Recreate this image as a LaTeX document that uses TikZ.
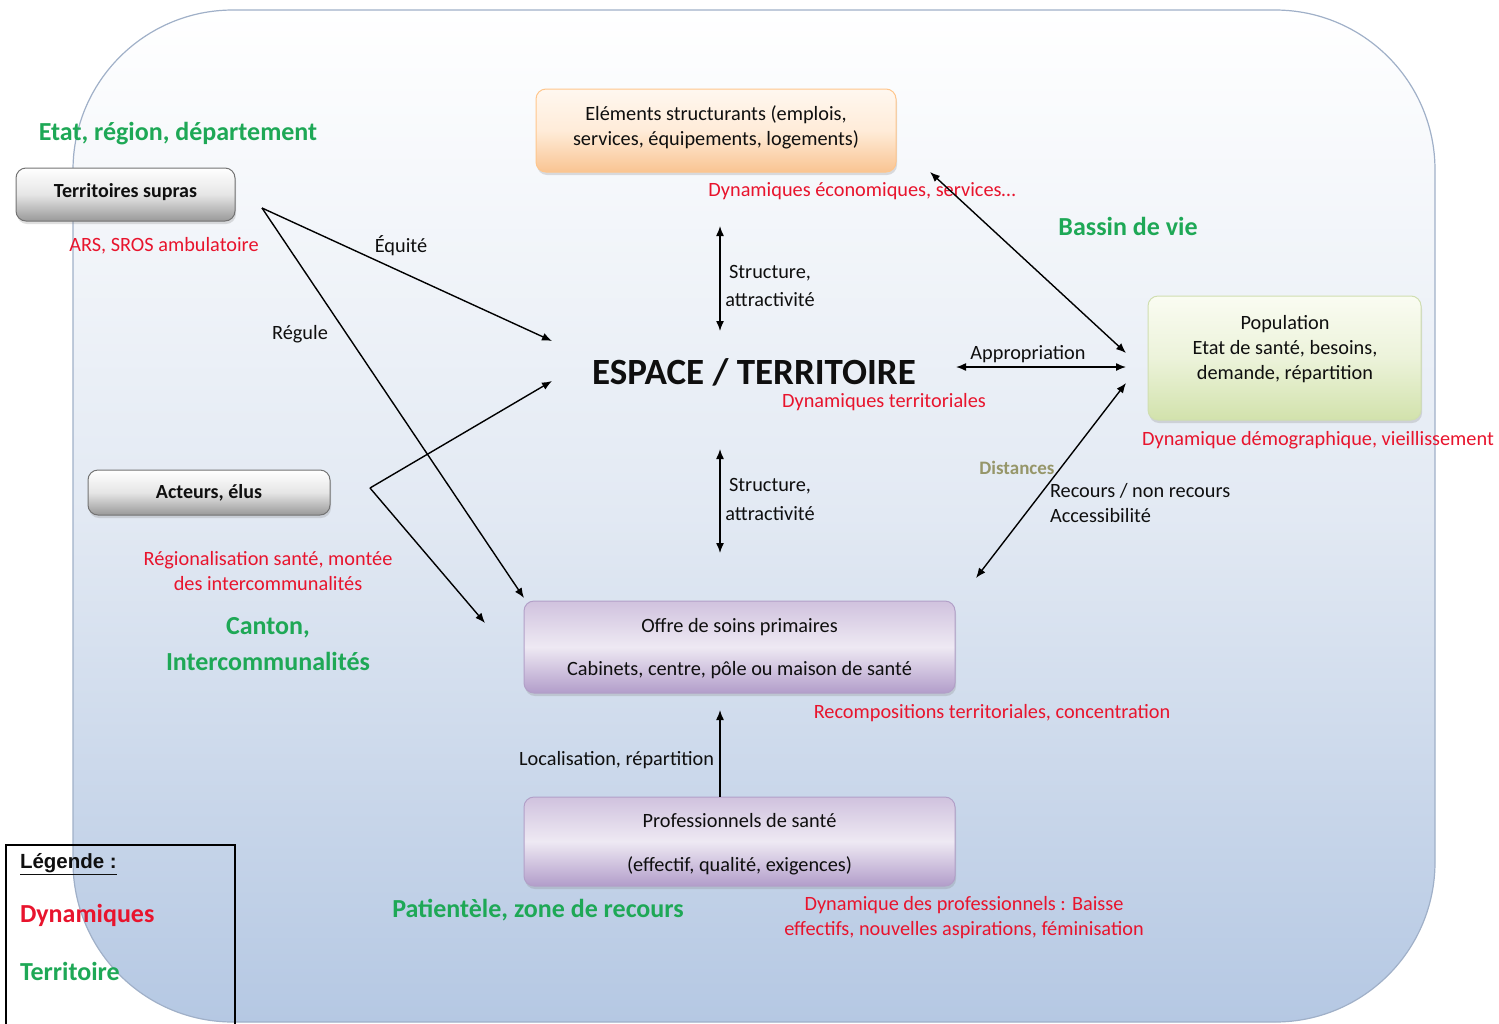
\documentclass[tikz,border=0pt]{standalone}
\usepackage{fontspec}
\setmainfont{Carlito}
\newfontfamily\legfont{Liberation Sans}
\usetikzlibrary{arrows.meta,shadows}
\definecolor{dynred}{RGB}{232,20,45}
\definecolor{terrgreen}{RGB}{30,168,86}
\definecolor{txtblack}{RGB}{15,15,15}
\definecolor{olivegray}{RGB}{150,150,105}
\definecolor{bgborder}{RGB}{160,176,200}
\definecolor{bgmid}{RGB}{226,233,243}
\definecolor{bgblue}{RGB}{181,200,227}
\begin{document}
\begin{tikzpicture}[x=1pt,y=-1pt,
  every node/.style={inner sep=0pt,outer sep=0pt},
  lbl/.style={font=\fontsize{20.3}{25}\selectfont,text=txtblack,align=center,yshift=-2pt},
  dyn/.style={font=\fontsize{20.3}{25}\selectfont,text=dynred,align=center,yshift=-2pt},
  terr/.style={font=\bfseries\fontsize{26}{36}\selectfont,text=terrgreen,align=center,yshift=-2.5pt},
  boxbase/.style={rounded corners=10pt,line width=1pt,
    drop shadow={shadow xshift=1pt,shadow yshift=-3pt,opacity=0.25}},
  graybox/.style={boxbase,draw=black!55,top color=white,bottom color=black!40,middle color=black!10},
  orangebox/.style={boxbase,draw=orange!45,top color=orange!6,bottom color={rgb,255:red,249;green,196;blue,146},middle color=orange!15},
  greenbox/.style={boxbase,draw={rgb,255:red,208;green,222;blue,176},top color={rgb,255:red,250;green,252;blue,242},bottom color={rgb,255:red,210;green,226;blue,172},middle color={rgb,255:red,236;green,243;blue,218}},
  purplebox/.style={boxbase,draw={rgb,255:red,178;green,160;blue,200},top color={rgb,255:red,208;green,194;blue,222},bottom color={rgb,255:red,178;green,157;blue,202},middle color={rgb,255:red,238;green,233;blue,243}},
  conn/.style={draw=black,line width=1.4pt,-{Latex[length=10pt,width=8pt]}},
  biconn/.style={draw=black,line width=1.4pt,{Latex[length=10pt,width=8pt]}-{Latex[length=10pt,width=8pt]}}
]
\useasboundingbox (0,0) rectangle (1499,1023);
% background
\path[draw=bgborder,line width=1.2pt,top color=white,bottom color=bgblue,middle color=bgmid,rounded corners=160pt]
  (73,10) rectangle (1435,1022);

% boxes
\node[orangebox,minimum width=360pt,minimum height=83pt] (elem) at (716,130.5) {};
\node[lbl] (elem-t) at (716,125) {Eléments structurants (emplois,\\services, équipements, logements)};

\node[graybox,minimum width=219pt,minimum height=53pt] (ts) at (125.5,194.5) {};
\node[lbl,font=\bfseries\fontsize{20}{25}\selectfont] (ts-t) at (125.5,190) {Territoires supras};

\node[graybox,minimum width=242pt,minimum height=45pt] (act) at (209,492.5) {};
\node[lbl,font=\bfseries\fontsize{20}{25}\selectfont] (act-t) at (209,491) {Acteurs, élus};

\node[greenbox,minimum width=273pt,minimum height=124pt] (pop) at (1284.5,358) {};
\node[lbl] (pop-t) at (1285,347) {Population\\Etat de santé, besoins,\\demande, répartition};

\node[purplebox,minimum width=431pt,minimum height=92pt] (offre) at (739.5,647) {};
\node[lbl] (offre-t) at (739.5,646.5) {Offre de soins primaires\\[18pt]Cabinets, centre, pôle ou maison de santé};

\node[purplebox,minimum width=431pt,minimum height=89pt] (prof) at (739.5,841.5) {};
\node[lbl] (prof-t) at (739.5,842) {Professionnels de santé\\[19pt](effectif, qualité, exigences)};

% central
\node[font=\bfseries\fontsize{37}{40}\selectfont,text=txtblack] (esp) at (754,372) {ESPACE / TERRITOIRE};

% legend
\draw[line width=1.2pt,black] (6,1030) -- (6,845) -- (235,845) -- (235,1030);
\node[anchor=west,font=\legfont\bfseries\fontsize{20.5}{24}\selectfont,text=txtblack] (leg) at (20,864) {\underline{Légende :}};
\node[anchor=west,font=\bfseries\fontsize{26}{30}\selectfont,text=dynred] (leg-d) at (20,915) {Dynamiques};
\node[anchor=west,font=\bfseries\fontsize{26}{30}\selectfont,text=terrgreen] (leg-t) at (20,971) {Territoire};

% territory labels
\node[terr] (t1) at (178,131) {Etat, région, département};
\node[terr] (t2) at (1128,224) {Bassin de vie};
\node[terr] (t3) at (268,642) {Canton,\\Intercommunalités};
\node[terr] (t4) at (538,908) {Patientèle, zone de recours};

% dynamics labels
\node[dyn] (d1) at (164,244) {ARS, SROS ambulatoire};
\node[dyn] (d2) at (862,189) {Dynamiques économiques, services\dots};
\node[dyn] (d3) at (884,400) {Dynamiques territoriales};
\node[dyn] (d4) at (1318,438) {Dynamique démographique, vieillissement};
\node[dyn] (d5) at (268,569.5) {Régionalisation santé, montée\\des intercommunalités};
\node[dyn] (d6) at (992,711) {Recompositions territoriales, concentration};
\node[dyn] (d7) at (964,915.5) {Dynamique des professionnels : Baisse\\effectifs, nouvelles aspirations, féminisation};

% connector endpoints
\coordinate (ts-o) at (262,208);
\coordinate (esp-w1) at (552,341);
\coordinate (esp-w2) at (552,381);
\coordinate (offre-nw) at (524,598);
\coordinate (act-o) at (370,488);
\coordinate (offre-w) at (485,623);
\coordinate (elem-s) at (720,226);
\coordinate (esp-n) at (720,331);
\coordinate (esp-s) at (720,449);
\coordinate (offre-n) at (720,553);
\coordinate (elem-se) at (930,172);
\coordinate (pop-w1) at (1126,353);
\coordinate (esp-e) at (956,367);
\coordinate (pop-w2) at (1126,367);
\coordinate (offre-ne) at (976,578);
\coordinate (pop-w3) at (1126,383);
\coordinate (prof-n) at (720,797);
\coordinate (offre-s) at (720,710);

% connectors
\draw[conn] (ts-o) -- (esp-w1);
\draw[conn] (ts-o) -- (offre-nw);
\draw[conn] (act-o) -- (esp-w2);
\draw[conn] (act-o) -- (offre-w);
\draw[biconn] (elem-s) -- (esp-n);
\draw[biconn] (esp-s) -- (offre-n);
\draw[biconn] (elem-se) -- (pop-w1);
\draw[biconn] (esp-e) -- (pop-w2);
\draw[biconn] (offre-ne) -- (pop-w3);
\draw[conn] (prof-n) -- (offre-s);

% connector labels
\node[lbl] (l-eq) at (401,244) {Équité};
\node[lbl] (l-reg) at (300,332) {Régule};
\node[lbl] (l-s1) at (770,284) {Structure,\\[3pt]attractivité};
\node[lbl] (l-s2) at (770,497) {Structure,\\[4pt]attractivité};
\node[lbl] (l-app) at (1028,352) {Appropriation};
\node[lbl,text=olivegray,font=\bfseries\fontsize{19}{25}\selectfont] (l-dist) at (1017,466) {Distances};
\node[lbl,align=left,anchor=north west] (l-rec) at (1050,481) {Recours / non recours\\Accessibilité};
\node[lbl,anchor=east] (l-loc) at (714,758) {Localisation, répartition};
\end{tikzpicture}
\end{document}
